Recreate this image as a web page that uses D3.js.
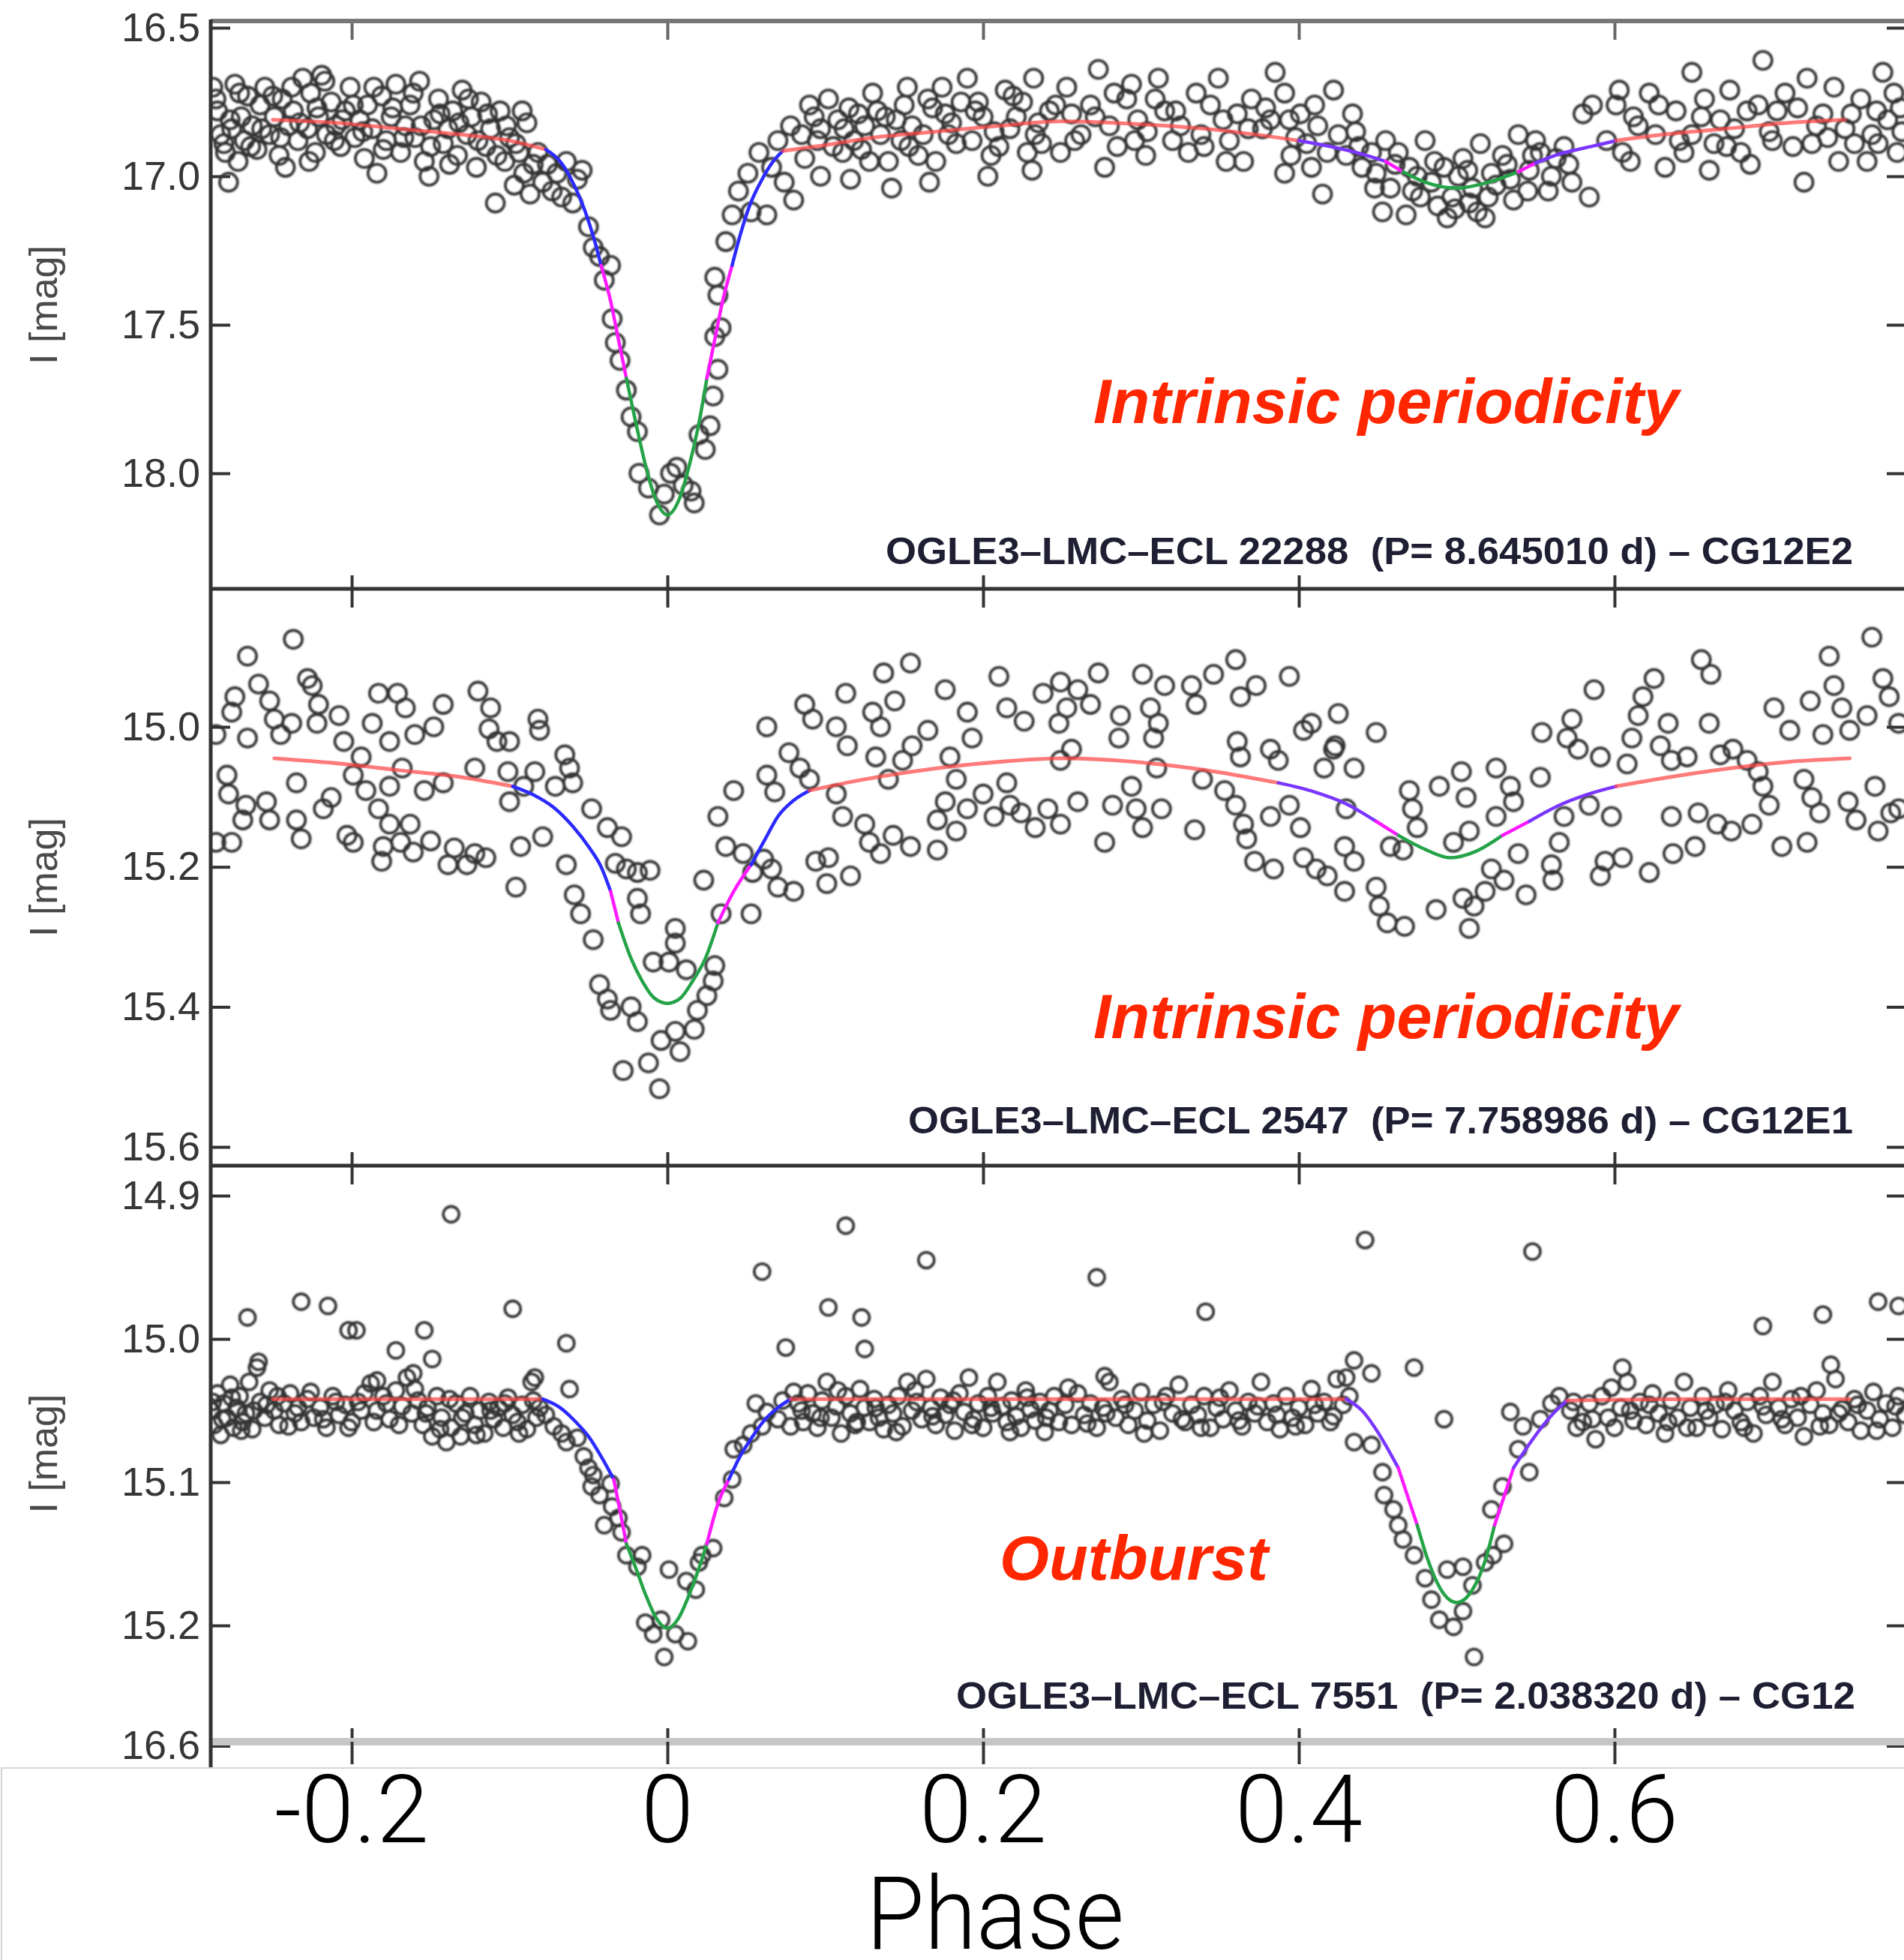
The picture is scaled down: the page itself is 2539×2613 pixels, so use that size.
<!DOCTYPE html>
<html>
<head>
<meta charset="utf-8">
<script src="https://cdn.jsdelivr.net/npm/d3@7"></script>
<style>
  body { margin: 0; background: #fff; }
  svg { display: block; }
</style>
</head>
<body>
<svg id="canvas"></svg>
<script>
// ---- data ----
let phaseTicks = [-0.2, 0, 0.2, 0.4, 0.6];
let phaseLabels = ['-0.2', '0', '0.2', '0.4', '0.6'];

let magTicks1 = [16.5, 17.0, 17.5, 18.0];
let magLabels1 = ['16.5', '17.0', '17.5', '18.0'];
let magTicks2 = [15.0, 15.2, 15.4, 15.6];
let magLabels2 = ['15.0', '15.2', '15.4', '15.6'];
let magTicks3 = [14.9, 15.0, 15.1, 15.2, 15.284];
let magLabels3 = ['14.9', '15.0', '15.1', '15.2', '16.6'];

let starNames = [
    'OGLE3\u2013LMC\u2013ECL 22288  (P= 8.645010 d) \u2013 CG12E2',
    'OGLE3\u2013LMC\u2013ECL 2547  (P= 7.758986 d) \u2013 CG12E1',
    'OGLE3\u2013LMC\u2013ECL 7551  (P= 2.038320 d) \u2013 CG12'
];
let notes = ['Intrinsic periodicity', 'Intrinsic periodicity', 'Outburst'];

// fitted light curves: [phase, mag, part]
let fit1 = [
    [-0.250,16.81,'out'],[-0.21,16.82,'out'],[-0.17,16.84,'out'],[-0.13,16.86,'out'],[-0.10,16.88,'out'],[-0.077,16.91,'out'],
    [-0.068,16.95,'in'],[-0.060,17.02,'in'],[-0.052,17.12,'in'],[-0.046,17.22,'in'],[-0.042,17.30,'in'],
    [-0.036,17.42,'mid'],[-0.031,17.55,'mid'],[-0.026,17.68,'mid'],
    [-0.020,17.83,'core'],[-0.014,17.97,'core'],[-0.008,18.08,'core'],[0,18.14,'core'],[0.008,18.08,'core'],[0.014,17.97,'core'],[0.020,17.83,'core'],[0.025,17.68,'core'],
    [0.030,17.55,'mid'],[0.035,17.42,'mid'],[0.041,17.30,'mid'],
    [0.046,17.20,'in'],[0.052,17.10,'in'],[0.060,17.01,'in'],[0.067,16.95,'in'],[0.073,16.915,'in'],
    [0.10,16.895,'out'],[0.13,16.87,'out'],[0.17,16.85,'out'],[0.21,16.83,'out'],[0.25,16.815,'out'],[0.30,16.825,'out'],[0.35,16.845,'out'],[0.40,16.88,'out'],
    [0.42,16.90,'in2'],[0.44,16.925,'in2'],[0.455,16.95,'in2'],
    [0.466,16.985,'mid'],
    [0.48,17.02,'core'],[0.50,17.04,'core'],[0.52,17.02,'core'],[0.539,16.985,'core'],
    [0.55,16.955,'mid'],
    [0.565,16.925,'in2'],[0.585,16.90,'in2'],[0.601,16.88,'in2'],
    [0.63,16.86,'out'],[0.67,16.84,'out'],[0.71,16.82,'out'],[0.746,16.81,'out']
];
let fit2 = [
    [-0.249,15.045,'out'],[-0.21,15.052,'out'],[-0.17,15.062,'out'],[-0.13,15.072,'out'],[-0.098,15.085,'out'],
    [-0.085,15.097,'in'],[-0.071,15.117,'in'],[-0.060,15.142,'in'],[-0.050,15.171,'in'],[-0.042,15.20,'in'],[-0.036,15.235,'in'],
    [-0.031,15.28,'mid'],
    [-0.023,15.331,'core'],[-0.016,15.363,'core'],[-0.008,15.388,'core'],[0,15.395,'core'],[0.008,15.388,'core'],[0.016,15.363,'core'],[0.024,15.331,'core'],[0.032,15.28,'core'],
    [0.042,15.235,'mid'],[0.053,15.197,'mid'],
    [0.062,15.16,'in'],[0.070,15.128,'in'],[0.080,15.105,'in'],[0.090,15.091,'in'],
    [0.12,15.077,'out'],[0.155,15.064,'out'],[0.20,15.052,'out'],[0.25,15.045,'out'],[0.31,15.053,'out'],[0.35,15.065,'out'],[0.387,15.08,'out'],
    [0.41,15.093,'in2'],[0.43,15.11,'in2'],[0.449,15.135,'in2'],
    [0.463,15.155,'mid'],
    [0.48,15.175,'core'],[0.496,15.187,'core'],[0.512,15.178,'core'],[0.529,15.155,'core'],
    [0.546,15.135,'mid'],
    [0.565,15.112,'in2'],[0.585,15.095,'in2'],[0.601,15.085,'in2'],
    [0.64,15.07,'out'],[0.674,15.059,'out'],[0.71,15.05,'out'],[0.749,15.045,'out']
];
let fit3 = [
    [-0.25,15.042,'out'],[-0.15,15.042,'out'],[-0.079,15.042,'out'],
    [-0.068,15.048,'in'],[-0.058,15.058,'in'],[-0.050,15.068,'in'],[-0.042,15.082,'in'],[-0.034,15.098,'in'],
    [-0.030,15.12,'mid'],[-0.026,15.143,'mid'],
    [-0.020,15.16,'core'],[-0.014,15.178,'core'],[-0.007,15.195,'core'],[0,15.202,'core'],[0.007,15.195,'core'],[0.014,15.178,'core'],[0.020,15.16,'core'],[0.025,15.143,'core'],
    [0.032,15.115,'mid'],[0.039,15.098,'mid'],
    [0.046,15.082,'in'],[0.054,15.068,'in'],[0.062,15.056,'in'],[0.070,15.048,'in'],[0.078,15.042,'in'],
    [0.2,15.042,'out'],[0.30,15.042,'out'],[0.430,15.042,'out'],
    [0.440,15.050,'in2'],[0.450,15.065,'in2'],[0.458,15.08,'in2'],[0.463,15.09,'in2'],
    [0.469,15.11,'mid'],[0.475,15.13,'mid'],
    [0.482,15.155,'core'],[0.490,15.175,'core'],[0.500,15.184,'core'],[0.510,15.175,'core'],[0.518,15.155,'core'],[0.524,15.13,'core'],
    [0.530,15.11,'mid'],[0.536,15.09,'mid'],
    [0.545,15.075,'in2'],[0.555,15.06,'in2'],[0.563,15.05,'in2'],[0.570,15.043,'in2'],
    [0.65,15.042,'out'],[0.749,15.042,'out']
];

// observed points: [phase, I mag]
let points1 = [
    [-0.288,16.70],[-0.285,16.78],[-0.283,16.86],[-0.280,16.92],[-0.278,17.02],[-0.276,16.84],[-0.274,16.69],[-0.272,16.95],[-0.270,16.80],[-0.268,16.88],
    [-0.266,16.73],[-0.263,16.83],[-0.260,16.91],[-0.258,16.76],[-0.255,16.70],[-0.252,16.86],[-0.249,16.80],[-0.246,16.93],[-0.244,16.74],[-0.242,16.97],
    [-0.240,16.83],[-0.237,16.78],[-0.234,16.88],[-0.231,16.67],[-0.228,16.84],[-0.226,16.72],[-0.223,16.92],[-0.221,16.80],[-0.219,16.66],[-0.216,16.86],
    [-0.213,16.75],[-0.210,16.83],[-0.207,16.90],[-0.204,16.78],[-0.201,16.70],[-0.198,16.87],[-0.195,16.81],[-0.192,16.94],[-0.190,16.76],[-0.187,16.84],
    [-0.184,16.99],[-0.181,16.73],[-0.178,16.88],[-0.175,16.80],[-0.172,16.69],[-0.169,16.92],[-0.166,16.83],[-0.163,16.76],[-0.160,16.87],[-0.157,16.68],
    [-0.154,16.95],[-0.151,17.00],[-0.148,16.81],[-0.145,16.74],[-0.142,16.89],[-0.139,16.84],[-0.136,16.78],[-0.133,16.93],[-0.130,16.71],[-0.127,16.86],
    [-0.124,16.80],[-0.121,16.97],[-0.118,16.75],[-0.115,16.90],[-0.112,16.84],[-0.109,17.09],[-0.106,16.78],[-0.103,16.95],[-0.100,16.87],[-0.097,17.03],
    [-0.094,16.92],[-0.091,16.99],[-0.089,16.82],[-0.087,17.06],[-0.085,16.96],
    [-0.286,16.74],[-0.281,16.89],[-0.277,16.81],[-0.271,16.72],[-0.264,16.90],[-0.257,16.84],[-0.250,16.73],[-0.245,16.87],[-0.238,16.70],[-0.233,16.82],
    [-0.227,16.95],[-0.222,16.77],[-0.217,16.68],[-0.211,16.88],[-0.206,16.81],[-0.199,16.76],[-0.193,16.85],[-0.186,16.70],[-0.180,16.91],[-0.174,16.77],
    [-0.167,16.87],[-0.161,16.72],[-0.156,16.83],[-0.150,16.90],[-0.144,16.79],[-0.138,16.96],[-0.132,16.82],[-0.126,16.74],[-0.120,16.88],[-0.114,16.79],
    [-0.108,16.93],[-0.102,16.83],[-0.096,16.89],[-0.092,16.78],
    [-0.082,16.92],[-0.079,17.02],[-0.076,16.96],[-0.073,17.05],[-0.070,16.99],[-0.067,17.07],[-0.064,16.95],[-0.060,17.09],[-0.057,17.01],[-0.054,16.98],
    [-0.050,17.17],[-0.047,17.24],[-0.043,17.27],[-0.040,17.35],[-0.036,17.30],[-0.035,17.48],[-0.033,17.56],[-0.030,17.62],[-0.026,17.72],[-0.023,17.81],
    [-0.019,17.86],[-0.018,18.00],[-0.012,18.05],[-0.005,18.14],[-0.002,18.07],[0.002,18.00],[0.006,17.98],[0.010,18.04],[0.015,18.06],[0.017,18.10],
    [0.020,17.87],[0.024,17.92],[0.027,17.84],[0.029,17.74],[0.032,17.65],[0.030,17.54],[0.034,17.51],[0.032,17.40],[0.030,17.34],[0.037,17.22],
    [0.041,17.13],[0.045,17.05],[0.051,16.99],[0.053,17.12],[0.058,16.92],[0.063,17.13],[0.066,16.97],[0.070,16.88],[0.074,17.02],[0.078,16.83],[0.080,17.08],
    [0.090,16.76],[0.102,16.74],[0.097,16.84],[0.087,16.94],[0.097,17.00],[0.116,17.01],[0.111,16.92],[0.121,16.79],[0.130,16.72],[0.135,16.86],
    [0.142,17.04],[0.140,16.95],[0.152,16.70],[0.155,16.83],[0.159,16.93],[0.166,17.02],[0.174,16.70],[0.176,16.79],[0.183,16.89],[0.190,16.67],
    [0.197,16.75],[0.203,17.00],[0.207,16.85],[0.214,16.71],[0.221,16.80],[0.231,16.98],[0.232,16.67],[0.237,16.89],[0.242,16.78],
    [0.085,16.86],[0.093,16.80],[0.105,16.90],[0.108,16.81],[0.115,16.77],[0.118,16.88],[0.125,16.83],[0.128,16.95],[0.133,16.78],[0.145,16.81],
    [0.148,16.88],[0.150,16.76],[0.162,16.86],[0.168,16.77],[0.170,16.95],[0.180,16.82],[0.186,16.75],[0.193,16.88],[0.200,16.80],[0.210,16.90],
    [0.217,16.84],[0.225,16.75],[0.228,16.92],[0.235,16.82],
    [0.095,16.88],[0.112,16.84],[0.123,16.91],[0.138,16.80],[0.153,16.90],[0.165,16.74],[0.178,16.86],[0.195,16.78],[0.205,16.93],[0.219,16.73],
    [0.233,16.86],[0.246,16.76],[0.258,16.88],[0.271,16.80],[0.283,16.72],[0.296,16.88],[0.309,16.74],[0.322,16.78],[0.338,16.86],[0.352,16.81],
    [0.368,16.84],[0.379,16.77],[0.395,16.93],[0.410,16.76],
    [0.253,16.70],[0.256,16.79],[0.249,16.92],[0.273,16.64],[0.277,16.97],[0.280,16.83],[0.291,16.74],[0.294,16.69],[0.303,16.93],[0.304,16.85],
    [0.311,16.67],[0.315,16.78],[0.325,16.83],[0.330,16.92],[0.335,16.72],[0.349,16.67],[0.354,16.95],[0.356,16.88],[0.361,16.79],[0.370,16.74],
    [0.377,16.84],[0.385,16.65],[0.391,16.99],[0.391,16.72],[0.394,16.81],[0.401,16.79],[0.405,16.89],[0.415,17.06],[0.408,16.97],[0.422,16.71],
    [0.425,16.86],[0.430,16.93],
    [0.262,16.86],[0.268,16.76],[0.285,16.90],[0.298,16.81],[0.320,16.88],[0.340,16.90],[0.344,16.76],[0.365,16.95],[0.382,16.81],[0.398,16.87],
    [0.412,16.83],[0.418,16.92],
    [0.434,16.79],[0.436,16.85],[0.446,16.92],[0.449,16.99],[0.453,17.12],[0.458,17.04],[0.463,16.92],[0.468,17.13],[0.470,16.97],[0.477,17.07],
    [0.480,16.88],[0.484,17.02],[0.494,17.14],[0.497,17.07],[0.501,17.00],[0.504,16.94],[0.508,17.09],[0.515,16.89],[0.518,17.14],[0.522,16.99],
    [0.529,16.93],[0.536,17.08],[0.539,16.86],[0.546,16.98],[0.553,16.92],[0.563,16.94],[0.573,17.02],[0.584,17.07],[0.580,16.79],[0.586,16.76],
    [0.440,16.97],[0.455,16.88],[0.475,17.00],[0.488,17.10],[0.492,16.97],[0.510,17.04],[0.513,17.12],[0.525,17.03],[0.532,16.96],[0.545,17.05],
    [0.550,16.88],[0.560,17.00],[0.568,16.90],
    [0.438,16.90],[0.448,17.04],[0.461,16.96],[0.472,17.05],[0.486,16.95],[0.499,17.11],[0.507,16.98],[0.520,17.07],[0.534,17.01],[0.548,16.93],
    [0.558,17.05],[0.571,16.96],
    [0.603,16.71],[0.601,16.76],[0.605,16.92],[0.615,16.83],[0.622,16.72],[0.632,16.97],[0.639,16.78],[0.649,16.65],[0.649,16.86],[0.660,16.98],
    [0.667,16.81],[0.673,16.71],[0.680,16.92],[0.691,16.76],[0.694,16.61],[0.698,16.85],[0.708,16.72],[0.720,17.02],[0.722,16.67],[0.725,16.89],
    [0.732,16.79],[0.739,16.70],[0.746,16.84],[0.760,16.95],[0.756,16.74],[0.770,16.65],[0.773,16.81],[0.779,16.92],[0.767,16.89],
    [0.595,16.88],[0.610,16.95],[0.626,16.86],[0.644,16.92],[0.655,16.80],[0.663,16.89],[0.676,16.84],[0.686,16.96],[0.703,16.78],[0.713,16.90],
    [0.728,16.83],[0.742,16.95],[0.750,16.79],[0.763,16.86],[0.777,16.72],[0.782,16.85],
    [0.612,16.80],[0.628,16.76],[0.641,16.88],[0.657,16.74],[0.671,16.90],[0.684,16.78],[0.700,16.88],[0.716,16.77],[0.735,16.87],[0.752,16.89],
    [0.766,16.78],[0.781,16.77]
];

let points2 = [
    [-0.266,14.899],[-0.237,14.875],[-0.259,14.939],[-0.274,14.957],[-0.276,14.979],[-0.252,14.963],[-0.249,14.989],[-0.245,15.011],[-0.266,15.016],[-0.286,15.011],
    [-0.228,14.931],[-0.225,14.941],[-0.221,14.968],[-0.238,14.995],[-0.222,14.995],[-0.208,14.984],[-0.205,15.021],[-0.183,14.952],[-0.171,14.952],[-0.166,14.973],
    [-0.187,14.995],[-0.176,15.021],[-0.160,15.011],[-0.148,15.000],[-0.142,14.968],[-0.120,14.949],[-0.112,14.973],[-0.113,15.003],[-0.108,15.021],[-0.100,15.021],
    [-0.082,14.989],[-0.081,15.005],
    [-0.279,15.069],[-0.278,15.096],[-0.267,15.112],[-0.269,15.133],[-0.276,15.165],[-0.286,15.165],[-0.254,15.107],[-0.252,15.133],[-0.235,15.080],[-0.235,15.133],
    [-0.232,15.160],[-0.218,15.117],[-0.213,15.101],[-0.203,15.155],[-0.199,15.165],[-0.194,15.043],[-0.199,15.069],[-0.191,15.091],[-0.183,15.117],[-0.176,15.085],
    [-0.176,15.139],[-0.180,15.171],[-0.181,15.192],[-0.169,15.165],[-0.163,15.139],[-0.161,15.179],[-0.150,15.163],[-0.168,15.059],[-0.154,15.091],[-0.142,15.080],
    [-0.139,15.197],[-0.135,15.173],[-0.127,15.197],[-0.122,15.181],[-0.115,15.187],[-0.122,15.059],[-0.101,15.064],[-0.100,15.107],[-0.093,15.171],[-0.096,15.229],
    [-0.091,15.085],[-0.084,15.064],[-0.079,15.157],
    [-0.071,15.085],[-0.065,15.040],[-0.062,15.059],[-0.060,15.080],[-0.064,15.197],[-0.059,15.240],[-0.055,15.267],[-0.048,15.117],[-0.047,15.304],[-0.043,15.368],
    [-0.038,15.389],[-0.036,15.405],[-0.038,15.144],[-0.029,15.157],[-0.033,15.195],[-0.026,15.203],[-0.019,15.208],[-0.011,15.205],[-0.019,15.245],[-0.017,15.267],
    [-0.023,15.400],[-0.019,15.421],[-0.028,15.491],[-0.012,15.480],[-0.005,15.517],[-0.009,15.336],[0.001,15.336],[0.005,15.288],[0.005,15.309],[0.012,15.347],
    [-0.004,15.448],[0.005,15.435],[0.008,15.464],[0.017,15.432],[0.019,15.405],[0.025,15.384],[0.029,15.363],[0.030,15.341],[0.034,15.267],[0.023,15.219],
    [0.053,15.267],[0.032,15.128],[0.037,15.171],[0.042,15.091],[0.048,15.181],[0.054,15.208],[0.061,15.189],[0.066,15.203],[0.070,15.229],[0.080,15.235],
    [0.063,15.069],[0.068,15.093],[0.063,15.000],[0.077,15.037],[0.084,15.059],[0.087,14.968],[0.092,14.989],[0.090,15.075],[0.094,15.192],[0.102,15.187],
    [0.107,15.096],[0.101,15.224],[0.107,15.000],[0.113,14.952],[0.114,15.027],[0.111,15.128],[0.116,15.213],
    [0.137,14.923],[0.154,14.909],[0.144,14.963],[0.130,14.979],[0.135,15.000],[0.132,15.043],[0.140,15.075],[0.149,15.048],[0.155,15.027],[0.165,15.005],
    [0.176,14.947],[0.179,15.043],[0.183,15.075],[0.190,14.979],[0.193,15.016],[0.210,14.928],[0.215,14.973],[0.226,14.992],[0.238,14.952],[0.215,15.080],
    [0.125,15.139],[0.128,15.165],[0.135,15.181],[0.143,15.155],[0.154,15.171],[0.171,15.133],[0.171,15.176],[0.176,15.107],[0.183,15.149],[0.190,15.117],
    [0.200,15.096],[0.207,15.128],[0.217,15.112],[0.224,15.123],[0.233,15.144],[0.241,15.117],
    [0.249,14.936],[0.260,14.947],[0.273,14.923],[0.253,14.973],[0.268,14.968],[0.248,14.995],[0.249,15.048],[0.256,15.032],[0.287,14.984],[0.286,15.016],
    [0.301,14.925],[0.306,14.973],[0.311,14.995],[0.308,15.016],[0.315,14.941],[0.332,14.941],[0.335,14.968],[0.346,14.925],[0.360,14.904],[0.363,14.957],
    [0.361,15.021],[0.363,15.043],[0.373,14.941],[0.394,14.928],[0.382,15.032],[0.387,15.048],[0.403,15.005],[0.408,14.995],[0.425,14.981],[0.449,15.008],
    [0.422,15.032],[0.416,15.059],[0.435,15.059],[0.310,15.059],
    [0.260,15.107],[0.249,15.139],[0.277,15.165],[0.282,15.112],[0.294,15.085],[0.297,15.117],[0.301,15.144],[0.313,15.117],[0.334,15.147],[0.339,15.075],
    [0.353,15.091],[0.360,15.112],[0.365,15.139],[0.367,15.160],[0.372,15.192],[0.382,15.128],[0.384,15.203],[0.394,15.112],[0.401,15.144],[0.403,15.187],
    [0.411,15.203],[0.418,15.213],[0.429,15.235],[0.430,15.117],[0.429,15.171],[0.435,15.192],[0.423,15.027],
    [0.449,15.229],[0.451,15.256],[0.456,15.280],[0.467,15.285],[0.458,15.171],[0.466,15.176],[0.470,15.091],[0.472,15.117],[0.475,15.144],[0.489,15.085],
    [0.487,15.261],[0.498,15.165],[0.503,15.064],[0.506,15.101],[0.508,15.149],[0.504,15.245],[0.508,15.288],[0.511,15.256],[0.518,15.235],[0.522,15.203],
    [0.525,15.059],[0.525,15.128],[0.530,15.219],[0.534,15.085],[0.536,15.107],[0.539,15.181],[0.544,15.240],[0.553,15.072],[0.554,15.008],[0.560,15.197],
    [0.561,15.219],[0.565,15.165],[0.568,15.128],[0.570,15.016],[0.573,14.989],[0.577,15.032],[0.584,15.112],[0.587,14.947],[0.591,15.043],[0.598,15.128],
    [0.594,15.192],[0.591,15.213],[0.605,15.187],[0.608,15.053],[0.611,15.016],[0.615,14.984],[0.618,14.957],[0.625,14.931],[0.622,15.208],[0.629,15.027],
    [0.634,14.995],[0.636,15.048],[0.636,15.128],[0.637,15.181],[0.646,15.043],[0.651,15.171],[0.653,15.123],[0.655,14.904],[0.661,14.925],[0.660,14.995],
    [0.665,15.139],[0.667,15.040],[0.674,15.149],[0.675,15.032],[0.684,15.048],[0.687,15.139],[0.691,15.064],[0.694,15.085],[0.698,15.112],[0.701,14.973],
    [0.706,15.171],[0.711,15.005],[0.720,15.075],[0.722,15.165],[0.724,14.963],[0.725,15.101],[0.730,15.123],[0.732,15.011],[0.736,14.899],[0.739,14.941],
    [0.744,14.973],[0.748,15.107],[0.749,15.005],[0.753,15.133],[0.763,14.872],[0.760,14.984],[0.765,15.085],[0.767,15.149],[0.770,14.931],[0.774,14.957],
    [0.775,15.123],[0.780,14.995],[0.780,15.117]
];

let points3 = [
    [-0.289,15.050],[-0.287,15.060],[-0.285,15.038],[-0.283,15.067],[-0.281,15.045],[-0.279,15.055],[-0.277,15.032],[-0.275,15.062],[-0.273,15.048],[-0.271,15.040],
    [-0.269,15.058],[-0.267,15.052],[-0.265,15.030],[-0.263,15.063],[-0.260,15.020],[-0.258,15.044],[-0.255,15.055],[-0.252,15.036],[-0.249,15.050],[-0.246,15.060],
    [-0.243,15.045],[-0.239,15.038],[-0.236,15.052],[-0.232,15.058],[-0.228,15.042],[-0.224,15.055],[-0.220,15.048],[-0.216,15.062],[-0.212,15.040],[-0.208,15.053],
    [-0.204,15.046],[-0.200,15.058],[-0.196,15.044],[-0.192,15.038],[-0.188,15.031],[-0.184,15.050],[-0.180,15.040],[-0.176,15.056],[-0.172,15.036],[-0.168,15.047],
    [-0.165,15.027],[-0.162,15.052],[-0.158,15.043],[-0.155,15.060],[-0.152,15.048],[-0.149,15.068],[-0.146,15.040],[-0.143,15.055],[-0.140,15.072],[-0.137,15.062],
    [-0.134,15.045],[-0.131,15.068],[-0.128,15.052],[-0.125,15.040],[-0.122,15.060],[-0.119,15.050],[-0.116,15.066],[-0.113,15.044],[-0.110,15.056],[-0.107,15.048],
    [-0.104,15.062],[-0.101,15.041],[-0.098,15.053],[-0.095,15.058],[-0.092,15.046],[-0.089,15.063],[-0.086,15.030],[-0.083,15.055],[-0.081,15.048],
    [-0.288,15.044],[-0.282,15.056],[-0.276,15.041],[-0.270,15.064],[-0.262,15.050],[-0.254,15.046],[-0.247,15.040],[-0.240,15.061],[-0.234,15.048],[-0.226,15.037],
    [-0.218,15.056],[-0.210,15.044],[-0.202,15.062],[-0.194,15.050],[-0.186,15.058],[-0.178,15.045],[-0.170,15.060],[-0.160,15.035],[-0.153,15.052],[-0.144,15.063],
    [-0.138,15.042],[-0.130,15.055],[-0.121,15.067],[-0.112,15.050],[-0.103,15.045],[-0.094,15.066],[-0.085,15.043],
    [-0.137,14.913],[-0.266,14.985],[-0.232,14.974],[-0.215,14.977],[-0.202,14.994],[-0.197,14.994],[-0.172,15.008],[-0.154,14.994],[-0.149,15.014],[-0.098,14.979],
    [-0.064,15.003],[-0.259,15.016],[-0.084,15.027],[-0.062,15.035],[-0.184,15.029],[-0.161,15.024],
    [-0.077,15.053],[-0.072,15.061],[-0.067,15.066],[-0.064,15.072],[-0.057,15.069],[-0.053,15.082],[-0.050,15.090],[-0.047,15.095],[-0.048,15.103],[-0.043,15.109],
    [-0.036,15.101],[-0.035,15.117],[-0.040,15.130],[-0.031,15.125],[-0.029,15.135],[-0.026,15.151],[-0.019,15.159],[-0.016,15.151],[-0.014,15.198],[-0.009,15.206],
    [-0.002,15.222],[-0.004,15.196],[0.001,15.161],[0.005,15.206],[0.012,15.169],[0.013,15.211],[0.018,15.175],[0.020,15.156],[0.022,15.151],[0.029,15.146],
    [0.036,15.111],[0.041,15.098],[0.042,15.077],[0.048,15.074],[0.053,15.066],[0.056,15.045],[0.060,15.061],[0.063,15.051],[0.070,15.056],[0.073,15.043],
    [0.078,15.061],[0.080,15.037],
    [0.060,14.953],[0.113,14.921],[0.164,14.945],[0.102,14.978],[0.123,14.985],[0.075,15.006],[0.125,15.007],
    [0.083,15.045],[0.086,15.058],[0.089,15.038],[0.092,15.052],[0.095,15.062],[0.098,15.043],[0.101,15.030],[0.104,15.055],[0.107,15.047],[0.110,15.066],
    [0.113,15.040],[0.116,15.052],[0.119,15.060],[0.122,15.035],[0.125,15.048],[0.128,15.058],[0.131,15.042],[0.134,15.055],[0.137,15.063],[0.140,15.046],
    [0.143,15.052],[0.146,15.040],[0.149,15.061],[0.152,15.030],[0.155,15.050],[0.158,15.044],[0.161,15.056],[0.164,15.028],[0.167,15.048],[0.170,15.060],
    [0.173,15.041],[0.176,15.053],[0.179,15.046],[0.182,15.064],[0.185,15.038],[0.188,15.051],[0.191,15.027],[0.194,15.056],[0.197,15.045],[0.200,15.062],
    [0.203,15.040],[0.206,15.052],[0.209,15.030],[0.212,15.047],[0.215,15.058],[0.218,15.043],[0.221,15.054],[0.224,15.062],[0.227,15.036],[0.230,15.049],
    [0.233,15.057],[0.236,15.044],[0.239,15.065],[0.242,15.050],[0.245,15.040],[0.248,15.058],[0.252,15.046],[0.256,15.060],[0.260,15.038],[0.264,15.053],
    [0.268,15.045],[0.272,15.062],[0.276,15.048],[0.280,15.030],[0.284,15.055],[0.288,15.042],[0.292,15.060],[0.296,15.050],[0.300,15.037],[0.304,15.057],
    [0.308,15.046],[0.312,15.064],[0.316,15.040],[0.320,15.052],[0.324,15.032],[0.328,15.058],[0.332,15.046],[0.336,15.053],[0.340,15.040],[0.344,15.062],
    [0.348,15.048],[0.352,15.056],[0.356,15.036],[0.360,15.050],[0.364,15.061],[0.368,15.044],[0.372,15.052],[0.376,15.030],[0.380,15.058],[0.384,15.045],
    [0.388,15.063],[0.392,15.040],[0.396,15.055],[0.400,15.048],[0.404,15.060],[0.408,15.035],[0.412,15.052],[0.416,15.044],[0.420,15.058],[0.424,15.028],
    [0.428,15.046],[0.432,15.040],
    [0.085,15.050],[0.097,15.055],[0.108,15.036],[0.120,15.058],[0.132,15.048],[0.145,15.065],[0.157,15.036],[0.168,15.054],[0.181,15.043],[0.193,15.060],
    [0.205,15.048],[0.217,15.065],[0.228,15.041],[0.240,15.055],[0.254,15.034],[0.266,15.059],[0.278,15.052],[0.290,15.046],[0.302,15.066],[0.314,15.044],
    [0.326,15.056],[0.338,15.062],[0.350,15.041],[0.362,15.057],[0.374,15.047],[0.386,15.053],[0.398,15.061],[0.410,15.046],[0.422,15.054],
    [0.272,14.957],[0.341,14.981],[0.442,14.931],[0.548,14.939],[0.277,15.026],[0.473,15.020],[0.605,15.020],[0.492,15.056],[0.694,14.991],[0.732,14.983],
    [0.767,14.974],[0.780,14.977],[0.737,15.018],[0.435,15.015],[0.446,15.024],[0.430,15.027],
    [0.435,15.072],[0.446,15.074],[0.453,15.093],[0.454,15.109],[0.460,15.119],[0.463,15.130],[0.466,15.140],[0.473,15.151],[0.480,15.167],[0.484,15.182],
    [0.489,15.196],[0.498,15.201],[0.504,15.190],[0.510,15.172],[0.494,15.161],[0.504,15.159],[0.511,15.222],[0.518,15.156],[0.523,15.151],[0.530,15.143],
    [0.522,15.119],[0.529,15.103],[0.539,15.077],[0.546,15.093],[0.542,15.061],[0.534,15.051],[0.553,15.056],[0.560,15.045],[0.565,15.040],
    [0.572,15.050],[0.576,15.062],[0.580,15.058],[0.584,15.045],[0.588,15.070],[0.592,15.040],[0.596,15.055],[0.600,15.062],[0.604,15.048],[0.608,15.030],
    [0.612,15.057],[0.616,15.044],[0.620,15.060],[0.624,15.038],[0.628,15.052],[0.632,15.066],[0.636,15.043],[0.640,15.055],[0.644,15.030],[0.648,15.048],
    [0.652,15.062],[0.656,15.040],[0.660,15.055],[0.664,15.046],[0.668,15.063],[0.672,15.036],[0.676,15.050],[0.680,15.058],[0.684,15.044],[0.688,15.066],
    [0.692,15.040],[0.696,15.053],[0.700,15.030],[0.704,15.048],[0.708,15.060],[0.712,15.042],[0.716,15.055],[0.720,15.068],[0.724,15.046],[0.728,15.036],
    [0.732,15.052],[0.736,15.060],[0.740,15.028],[0.744,15.049],[0.748,15.058],[0.752,15.042],[0.756,15.064],[0.760,15.050],[0.764,15.037],[0.768,15.056],
    [0.772,15.045],[0.776,15.062],[0.780,15.040],[0.784,15.053],
    [0.574,15.044],[0.586,15.056],[0.598,15.034],[0.610,15.050],[0.622,15.046],[0.634,15.058],[0.646,15.062],[0.658,15.050],[0.670,15.044],[0.682,15.062],
    [0.694,15.047],[0.706,15.056],[0.718,15.040],[0.730,15.061],[0.742,15.052],[0.754,15.046],[0.766,15.064],[0.778,15.047]
];

// ---- layout ----
let width = 2539;
let height = 2613;
let left = 281;
let right = 2542;

let canvas = d3.select('#canvas')
    .attr('width', width)
    .attr('height', height);

let xScale = d3.scaleLinear().domain([-0.2, 0.6]).range([469, 2153]);

let partColor = {
    out: 'rgba(255, 70, 70, 0.72)',
    in: '#2b2bff',
    in2: '#7a36ff',
    mid: '#ff19ff',
    core: '#25a348'
};

let panels = [
    { top: 28, bottom: 785, y: d3.scaleLinear().domain([16.5, 18.0]).range([37, 631]),
      ticks: magTicks1, labels: magLabels1, points: points1, fit: fit1, r: 12,
      star: starNames[0], starX: 1181, starY: 752, starLen: 1290,
      note: notes[0], noteX: 1458, noteY: 564, noteLen: 781 },
    { top: 785, bottom: 1554, y: d3.scaleLinear().domain([15.0, 15.6]).range([969, 1529]),
      ticks: magTicks2, labels: magLabels2, points: points2, fit: fit2, r: 12,
      star: starNames[1], starX: 1211, starY: 1511, starLen: 1260,
      note: notes[1], noteX: 1458, noteY: 1384, noteLen: 781 },
    { top: 1554, bottom: 2322, y: d3.scaleLinear().domain([14.9, 15.2]).range([1594, 2167]),
      ticks: magTicks3, labels: magLabels3, points: points3, fit: fit3, r: 10.5,
      star: starNames[2], starX: 1275, starY: 2278, starLen: 1199,
      note: notes[2], noteX: 1333, noteY: 2106, noteLen: 358 }
];

let defs = canvas.append('defs');
defs.append('filter').attr('id', 'soft')
    .append('feGaussianBlur').attr('stdDeviation', 0.9);

let line = d3.line().curve(d3.curveMonotoneX);

panels.forEach((p, i) => {
    let g = canvas.append('g');
    let clipId = 'clip' + i;
    defs.append('clipPath').attr('id', clipId)
        .append('rect')
        .attr('x', left).attr('y', p.top)
        .attr('width', right - left).attr('height', p.bottom - p.top);

    // observed magnitudes
    g.append('g')
        .attr('clip-path', `url(#${clipId})`)
        .attr('filter', 'url(#soft)')
        .selectAll('circle')
        .data(p.points)
        .enter()
        .append('circle')
        .attr('cx', d => xScale(d[0]))
        .attr('cy', d => p.y(d[1]))
        .attr('r', p.r)
        .attr('fill', 'none')
        .attr('stroke', '#333')
        .attr('stroke-width', 3.6);

    // fitted model, split into coloured parts
    let segs = [];
    p.fit.forEach((d, k) => {
        if (k === 0) return;
        let last = segs[segs.length - 1];
        if (last && last.part === d[2]) last.pts.push(d);
        else segs.push({ part: d[2], pts: [p.fit[k - 1], d] });
    });
    g.append('g')
        .selectAll('path')
        .data(segs)
        .enter()
        .append('path')
        .attr('d', s => line(s.pts.map(d => [xScale(d[0]), p.y(d[1])])))
        .attr('fill', 'none')
        .attr('stroke', s => partColor[s.part])
        .attr('stroke-width', s => s.part === 'out' ? 5 : 4.5)
        .attr('stroke-linecap', 'round');

    // y axis, ticks pointing inward
    let yAxis = d3.axisLeft(p.y)
        .tickValues(p.ticks)
        .tickFormat((d, k) => p.labels[k])
        .tickSizeInner(-26)
        .tickSizeOuter(0)
        .tickPadding(14);
    let ya = g.append('g')
        .attr('transform', `translate(${left}, 0)`)
        .call(yAxis);
    ya.select('.domain').remove();
    ya.selectAll('line').attr('stroke', '#333').attr('stroke-width', 4);
    ya.selectAll('text')
        .attr('font-family', 'Liberation Sans, Arial, sans-serif')
        .attr('font-size', 54)
        .attr('fill', '#363636');

    let yRight = d3.axisRight(p.y).tickValues(p.ticks).tickFormat('').tickSizeInner(-26).tickSizeOuter(0);
    let yr = g.append('g').attr('transform', `translate(${right}, 0)`).call(yRight);
    yr.select('.domain').remove();
    yr.selectAll('line').attr('stroke', '#333').attr('stroke-width', 4);

    // phase ticks on top and bottom of each panel
    let xTop = d3.axisTop(xScale).tickValues(phaseTicks).tickFormat('').tickSizeInner(-25).tickSizeOuter(0);
    let xt = g.append('g').attr('transform', `translate(0, ${p.top})`).call(xTop);
    xt.select('.domain').remove();
    xt.selectAll('line').attr('stroke', i === 0 ? '#666' : '#333').attr('stroke-width', 4);

    let xBot = d3.axisBottom(xScale).tickValues(phaseTicks).tickFormat('').tickSizeInner(-18).tickSizeOuter(0);
    let xb = g.append('g').attr('transform', `translate(0, ${p.bottom})`).call(xBot);
    xb.select('.domain').remove();
    xb.selectAll('line').attr('stroke', '#333').attr('stroke-width', 4);

    // axis label
    g.append('text')
        .attr('transform', `translate(76, ${(p.top + p.bottom) / 2}) rotate(-90)`)
        .attr('text-anchor', 'middle')
        .attr('font-family', 'Liberation Sans, Arial, sans-serif')
        .attr('font-size', 52)
        .attr('fill', '#4a4a4a')
        .text('I [mag]');

    // star name
    g.append('text')
        .attr('x', p.starX)
        .attr('y', p.starY)
        .attr('textLength', p.starLen)
        .attr('lengthAdjust', 'spacingAndGlyphs')
        .attr('font-family', 'Liberation Sans, Arial, sans-serif')
        .attr('font-weight', 'bold')
        .attr('font-size', 50)
        .attr('fill', '#1f1f33')
        .style('white-space', 'pre')
        .text(p.star);

    // red annotation
    g.append('text')
        .attr('x', p.noteX)
        .attr('y', p.noteY)
        .attr('textLength', p.noteLen)
        .attr('lengthAdjust', 'spacingAndGlyphs')
        .attr('font-family', 'Liberation Sans, Arial, sans-serif')
        .attr('font-weight', 'bold')
        .attr('font-style', 'italic')
        .attr('font-size', 84)
        .attr('fill', '#ff2600')
        .text(p.note);
});

// frame lines
let frame = canvas.append('g');
frame.append('line').attr('x1', left).attr('x2', width).attr('y1', 28).attr('y2', 28)
    .attr('stroke', '#777').attr('stroke-width', 6);
[785, 1554].forEach(yv => {
    frame.append('line').attr('x1', left).attr('x2', width).attr('y1', yv).attr('y2', yv)
        .attr('stroke', '#333').attr('stroke-width', 5);
});
frame.append('line').attr('x1', left).attr('x2', width).attr('y1', 2322).attr('y2', 2322)
    .attr('stroke', '#c6c6c6').attr('stroke-width', 10);
frame.append('line').attr('x1', left).attr('x2', left).attr('y1', 26).attr('y2', 2357)
    .attr('stroke', '#333').attr('stroke-width', 5);
frame.append('line').attr('x1', right).attr('x2', right).attr('y1', 26).attr('y2', 2330)
    .attr('stroke', '#333').attr('stroke-width', 5);

let xOut = d3.axisBottom(xScale).tickValues(phaseTicks).tickFormat('').tickSizeInner(30).tickSizeOuter(0);
let xo = frame.append('g').attr('transform', 'translate(0, 2322)').call(xOut);
xo.select('.domain').remove();
xo.selectAll('line').attr('stroke', '#333').attr('stroke-width', 4);

// big phase axis box laid over the bottom
let box = canvas.append('g');
box.append('rect')
    .attr('x', 2).attr('y', 2357)
    .attr('width', width).attr('height', height - 2357 + 5)
    .attr('fill', '#fff')
    .attr('stroke', '#d4d4d4')
    .attr('stroke-width', 2);

box.selectAll('text.tick')
    .data(phaseTicks)
    .enter()
    .append('text')
    .attr('class', 'tick')
    .attr('x', d => xScale(d))
    .attr('y', 2456)
    .attr('text-anchor', 'middle')
    .attr('font-family', 'Roboto, Liberation Sans, sans-serif')
    .attr('font-weight', 300)
    .attr('font-size', 126)
    .attr('fill', '#000')
    .text((d, k) => phaseLabels[k]);

box.append('text')
    .attr('x', 1327)
    .attr('y', 2598)
    .attr('text-anchor', 'middle')
    .attr('textLength', 344)
    .attr('lengthAdjust', 'spacingAndGlyphs')
    .attr('font-family', 'Roboto, Liberation Sans, sans-serif')
    .attr('font-weight', 300)
    .attr('font-size', 136)
    .attr('fill', '#000')
    .text('Phase');
</script>
</body>
</html>
